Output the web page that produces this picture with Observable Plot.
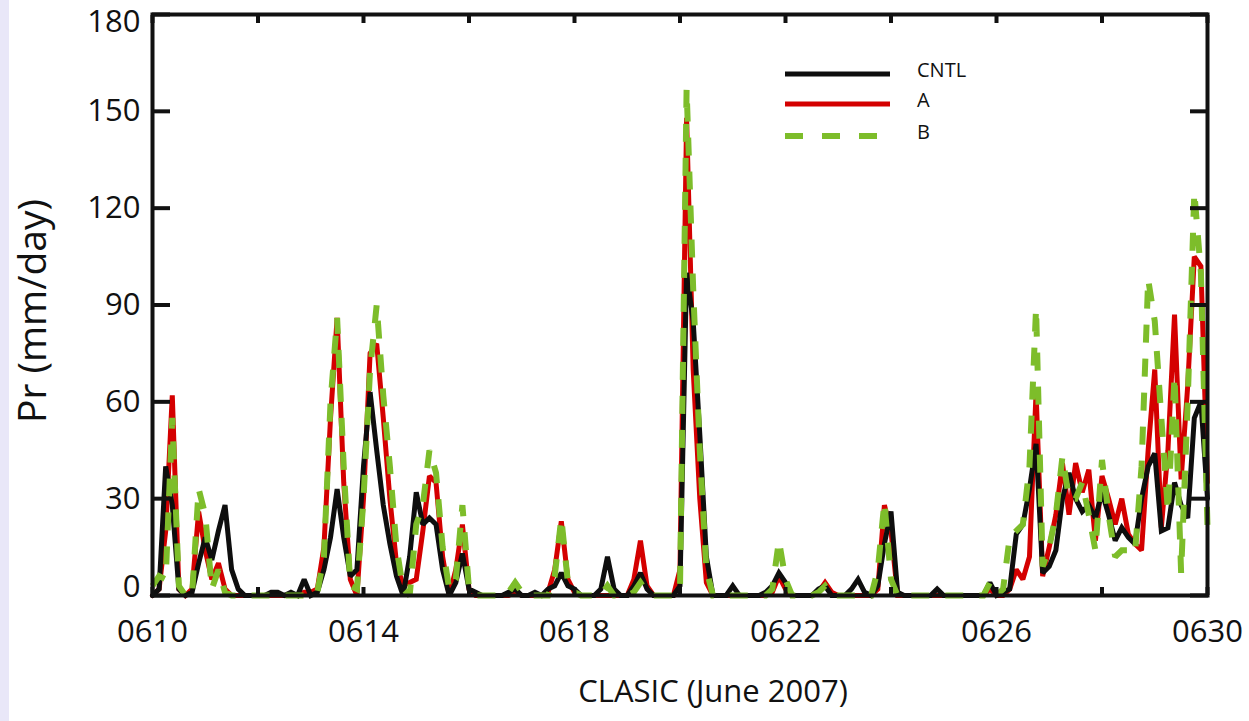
<!DOCTYPE html>
<html><head><meta charset="utf-8">
<script src="https://cdn.jsdelivr.net/npm/d3@7"></script>
<script src="https://cdn.jsdelivr.net/npm/@observablehq/plot@0.6"></script>
<style>
html,body{margin:0;padding:0;background:#fff;}
#wrap{position:relative;width:1249px;height:721px;overflow:hidden;background:#fff;}
#strip{position:absolute;left:0;top:0;width:9px;height:721px;background:#e9e7f8;}
#chart{position:absolute;left:0;top:0;}
#legend{position:absolute;left:0;top:0;pointer-events:none;}
</style></head><body>
<div id="wrap"><div id="strip"></div><div id="chart"></div><svg id="legend" width="1249" height="721"></svg></div>
<script>
// 3-hourly precipitation (mm/day), 0610 00Z .. 0630 00Z
const startDay = 10;
const stepsPerDay = 8;
const cntl = [
  0, 2, 40, 28, 2, 0, 1, 10, 18, 11, 20, 28, 8, 2, 0, 0,
  0, 0, 1, 1, 0, 1, 0, 5, 0, 1, 8, 18, 33, 18, 6, 8,
  40, 63, 45, 28, 16, 6, 0, 12, 32, 22, 24, 22, 8, 0, 4, 13,
  2, 1, 0, 0, 0, 0, 1, 2, 0, 0, 1, 0, 2, 3, 7, 3,
  2, 0, 0, 0, 2, 12, 2, 0, 0, 3, 7, 2, 0, 0, 0, 0,
  3, 100, 85, 50, 12, 0, 0, 0, 3, 0, 0, 0, 0, 1, 3, 7,
  4, 0, 0, 0, 0, 2, 3, 0, 0, 0, 2, 5, 1, 0, 3, 16,
  26, 1, 0, 0, 0, 0, 0, 2, 0, 0, 0, 0, 0, 0, 0, 4,
  0, 1, 2, 19, 22, 33, 47, 7, 9, 14, 30, 38, 30, 26, 28, 24,
  32, 25, 17, 21, 18, 16, 30, 40, 44, 20, 21, 35, 28, 24, 55, 60, 30
];
const expA = [
  0, 2, 20, 62, 2, 0, 2, 26, 14, 5, 10, 2, 0, 0, 0, 0,
  0, 0, 0, 0, 0, 0, 0, 1, 1, 2, 15, 55, 86, 35, 5, 0,
  30, 75, 78, 55, 30, 10, 3, 4, 5, 20, 37, 35, 12, 0, 8, 22,
  2, 0, 0, 0, 0, 0, 0, 1, 0, 0, 0, 0, 1, 8, 23, 5,
  1, 0, 0, 0, 0, 0, 0, 0, 0, 5, 17, 3, 0, 0, 0, 0,
  8, 148, 70, 30, 4, 0, 0, 0, 0, 0, 0, 0, 0, 0, 1, 6,
  2, 0, 0, 0, 0, 1, 4, 1, 0, 0, 0, 0, 0, 0, 2, 28,
  20, 0, 0, 0, 0, 0, 0, 0, 0, 0, 0, 0, 0, 0, 0, 2,
  0, 0, 2, 8, 5, 12, 63, 6, 15, 25, 41, 25, 41, 32, 39, 17,
  37, 30, 22, 30, 19, 16, 14, 45, 70, 21, 45, 87, 36, 65, 105, 102, 35
];
const expB = [
  3, 6, 5, 55, 3, 0, 0, 33, 25, 2, 8, 1, 0, 0, 0, 0,
  0, 0, 0, 0, 0, 0, 0, 0, 0, 1, 12, 60, 86, 40, 3, 2,
  30, 70, 90, 62, 40, 15, 2, 0, 22, 28, 45, 38, 15, 2, 5, 28,
  2, 0, 0, 0, 0, 0, 1, 4, 1, 0, 0, 0, 0, 6, 24, 4,
  1, 0, 0, 0, 0, 3, 0, 0, 0, 1, 4, 1, 0, 0, 0, 0,
  2, 157, 95, 45, 8, 0, 0, 0, 0, 0, 0, 0, 0, 0, 2, 17,
  5, 0, 0, 0, 0, 1, 3, 0, 0, 0, 0, 0, 0, 0, 8, 29,
  5, 0, 0, 0, 0, 0, 0, 0, 0, 0, 0, 0, 0, 0, 0, 4,
  0, 2, 18, 20, 22, 40, 89, 9, 15, 25, 43, 30, 30, 35, 25, 14,
  42, 25, 12, 14, 14, 13, 40, 98, 85, 55, 26, 68, 7, 60, 125, 100, 21
];
const seriesNames = ["CNTL", "A", "B"];
const seriesColors = {CNTL: "#0e0e0e", A: "#d40000", B: "#7dbd2a"};
const xLabelDays = [10, 14, 18, 22, 26, 30];
const xMinorDays = [10, 12, 14, 16, 18, 20, 22, 24, 26, 28, 30];
const yTicks = [0, 30, 60, 90, 120, 150, 180];
const xTitle = "CLASIC (June 2007)";
const yTitle = "Pr (mm/day)";

const toRows = (arr, name) => arr.map((v, i) => ({day: startDay + i / stepsPerDay, pr: v, series: name}));
const rowsC = toRows(cntl, "CNTL");
const rowsA = toRows(expA, "A");
const rowsB = toRows(expB, "B");

const font = "'Open Sans', 'Noto Sans', sans-serif";
const axisColor = "#111";

const chart = Plot.plot({
  width: 1249, height: 721,
  marginLeft: 152, marginRight: 42, marginTop: 14, marginBottom: 126,
  style: {fontFamily: font, background: "transparent", color: axisColor, overflow: "visible"},
  x: {domain: [10, 30]},
  y: {domain: [0, 180]},
  marks: [
    Plot.line(rowsA, {x: "day", y: "pr", stroke: seriesColors.A, strokeWidth: 5, strokeLinejoin: "miter", strokeMiterlimit: 2}),
    Plot.line(rowsC, {x: "day", y: "pr", stroke: seriesColors.CNTL, strokeWidth: 5, strokeLinejoin: "miter", strokeMiterlimit: 2}),
    Plot.line(rowsB, {x: "day", y: "pr", stroke: seriesColors.B, strokeWidth: 6, strokeDasharray: "18,16", strokeLinejoin: "miter", strokeMiterlimit: 2, strokeLinecap: "butt"}),
    Plot.frame({stroke: axisColor, strokeWidth: 4}),
    // inward ticks
    Plot.axisY(yTicks, {anchor: "left", tickSize: 18, dx: 18, strokeWidth: 4, tickFormat: () => "", label: null}),
    Plot.axisY(yTicks, {anchor: "right", tickSize: 18, dx: -18, strokeWidth: 4, tickFormat: () => "", label: null}),
    Plot.axisX(xMinorDays, {anchor: "bottom", tickSize: 8, dy: -8, strokeWidth: 4, tickFormat: () => "", label: null}),
    Plot.axisX(xMinorDays, {anchor: "top", tickSize: 8, dy: 8, strokeWidth: 4, tickFormat: () => "", label: null}),
    // tick labels
    Plot.axisY(yTicks.filter(d => d > 0 && d < 180), {anchor: "left", tickSize: 0, tickPadding: 12, fontSize: 31, label: null}),
    Plot.axisY([180], {anchor: "left", tickSize: 0, tickPadding: 12, fontSize: 31, dy: 8, label: null}),
    Plot.axisY([0], {anchor: "left", tickSize: 0, tickPadding: 12, fontSize: 31, dy: -8, label: null}),
    Plot.axisX(xLabelDays, {anchor: "bottom", tickSize: 0, tickPadding: 24, fontSize: 31, tickFormat: d => "06" + String(d).padStart(2, "0"), label: null}),
    // titles
    Plot.text([xTitle], {frameAnchor: "bottom", textAnchor: "middle", lineAnchor: "middle", dy: 97, dx: 33, fontSize: 31, fill: axisColor}),
    Plot.text([yTitle], {frameAnchor: "left", textAnchor: "middle", lineAnchor: "middle", rotate: -90, dx: -119, dy: 6, fontSize: 39, fill: axisColor})
  ]
});
document.getElementById("chart").appendChild(chart);

// legend
const leg = d3.select("#legend");
const legendItems = [
  {name: "CNTL", y: 74, dash: null, w: 5},
  {name: "A", y: 104, dash: null, w: 5},
  {name: "B", y: 136, dash: "18,19", w: 6}
];
legendItems.forEach(it => {
  leg.append("line").attr("x1", 785).attr("x2", it.dash ? 878 : 890).attr("y1", it.y).attr("y2", it.y)
    .attr("stroke", seriesColors[it.name]).attr("stroke-width", it.w)
    .attr("stroke-dasharray", it.dash);
  leg.append("text").attr("x", 917).attr("y", it.y - 4).attr("dy", "0.35em")
    .attr("font-family", font).attr("font-size", 20).attr("fill", axisColor).text(it.name);
});
</script>
</body></html>
